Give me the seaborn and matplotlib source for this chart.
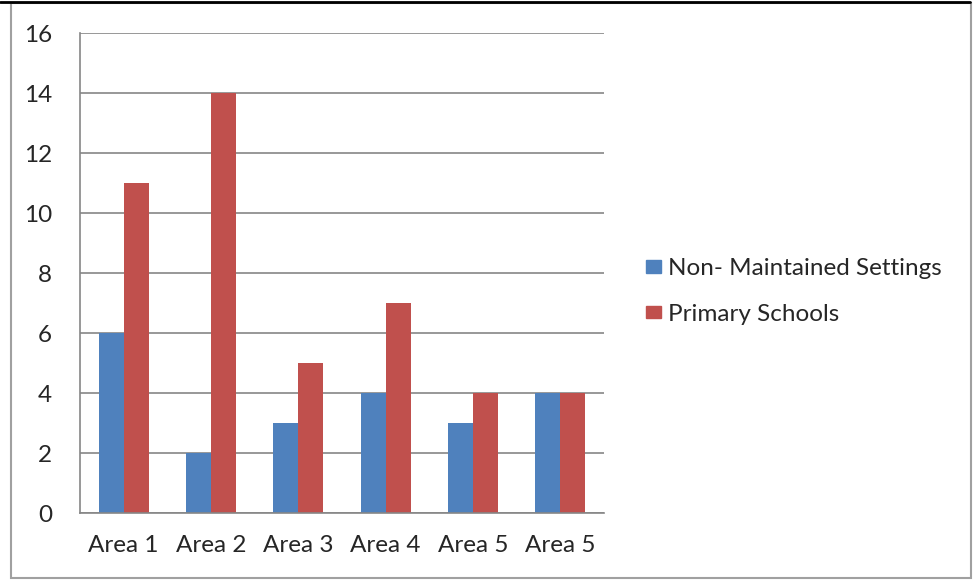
import matplotlib
matplotlib.use("Agg")
import matplotlib.pyplot as plt
import seaborn as sns
import pandas as pd
from matplotlib.patches import Rectangle
from matplotlib.lines import Line2D

categories = ["Area 1", "Area 2", "Area 3", "Area 4", "Area 5", "Area 5"]
non_maintained = [6, 2, 3, 4, 3, 4]
primary = [11, 14, 5, 7, 4, 4]
series_names = ["Non- Maintained Settings", "Primary Schools"]
colors = ["#4F81BD", "#C0504D"]
yticks = [0, 2, 4, 6, 8, 10, 12, 14, 16]

rows = []
for i, (a, b) in enumerate(zip(non_maintained, primary)):
    rows.append({"pos": i, "series": series_names[0], "value": a})
    rows.append({"pos": i, "series": series_names[1], "value": b})
df = pd.DataFrame(rows)

sns.set_style("white")
plt.rcParams["font.family"] = ["Lato", "DejaVu Sans"]
FS = 17.5

fig = plt.figure(figsize=(9.74, 5.81), dpi=100)
ax = fig.add_axes([80/974, 1-513/581, 524/974, 480/581])

sns.barplot(data=df, x="pos", y="value", hue="series", palette=colors,
            width=0.573, ax=ax, saturation=1, legend=False, errorbar=None,
            linewidth=0)

gc = "#868686"
ax.set_ylim(0, 16)
ax.set_xlim(-0.5, len(categories)-0.5)
ax.set_yticks(yticks)
ax.set_yticklabels([str(t) for t in yticks], fontsize=FS)
ax.yaxis.grid(True, color=gc, linewidth=1.2)
ax.set_axisbelow(True)
ax.set_xticks([i - 0.5 for i in range(len(categories)+1)])
ax.set_xticklabels([])
ax.set_xticks(range(len(categories)), minor=True)
ax.set_xticklabels(categories, minor=True, fontsize=FS)
ax.tick_params(axis="x", which="minor", length=0, pad=16)
ax.tick_params(axis="x", which="major", length=7, color=gc, width=1.2, direction="out")
ax.tick_params(axis="y", length=7, color=gc, width=1.2, direction="out", pad=13)
ax.set_xlabel("")
ax.set_ylabel("")
for s in ["top", "right"]:
    ax.spines[s].set_visible(False)
for s in ["left", "bottom"]:
    ax.spines[s].set_color(gc)
    ax.spines[s].set_linewidth(1.2)

handles = [Rectangle((0, 0), 1, 1, color=c) for c in colors]
fig.legend(handles, series_names, loc="center left", bbox_to_anchor=(646/974, 1-291.5/581),
           frameon=False, fontsize=FS, handlelength=0.62, handleheight=0.41,
           handletextpad=0.3, labelspacing=1.0, borderpad=0, borderaxespad=0)

# outer frame
fig.add_artist(Line2D([0, 970/974], [1-2/581, 1-2/581], color="black", linewidth=2, transform=fig.transFigure))
fig.add_artist(Rectangle((11/974, 3/581), 960/974, 575/581, fill=False, edgecolor="#A0A0A0",
                         linewidth=1.5, transform=fig.transFigure))

fig.savefig("out.png", dpi=100)
